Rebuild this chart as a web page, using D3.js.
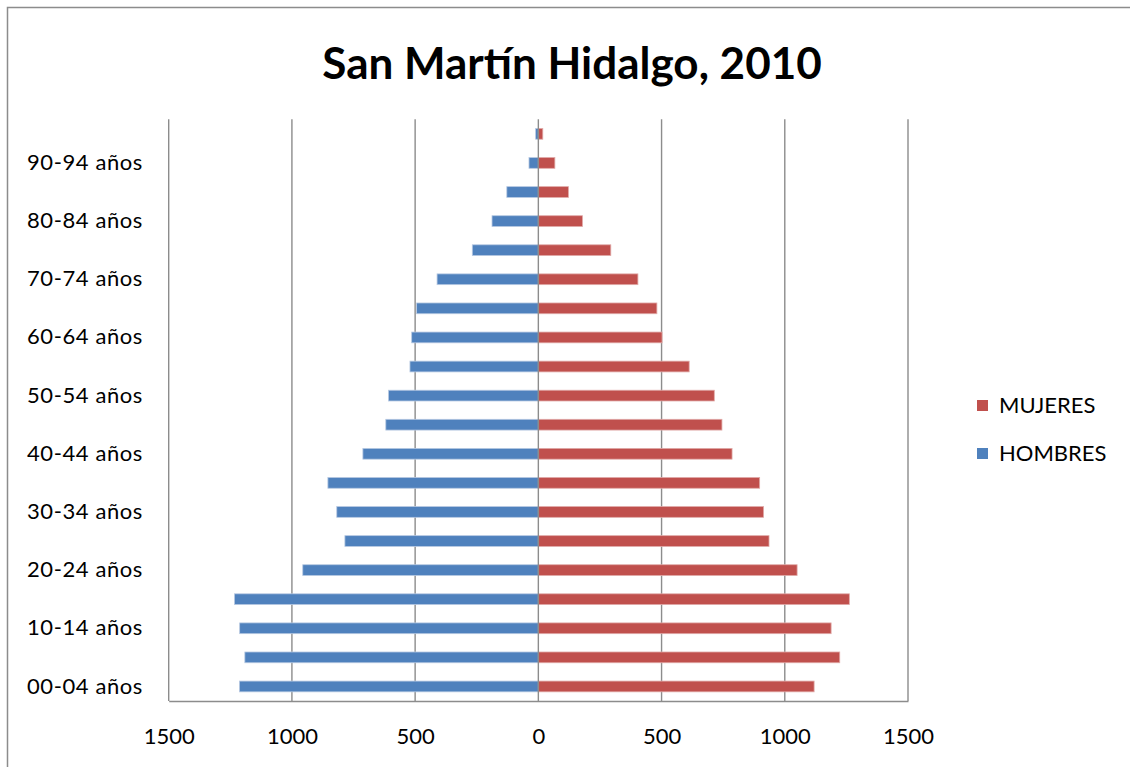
<!DOCTYPE html>
<html>
<head>
<meta charset="utf-8">
<script src="https://cdn.jsdelivr.net/npm/d3@7"></script>
<style>
  html, body { margin: 0; padding: 0; background: #fff; }
  svg { display: block; font-family: Lato, "Open Sans", "DejaVu Sans", sans-serif; }
</style>
</head>
<body>
<svg id="chart" width="1130" height="767"></svg>
<script>
// Population pyramid, San Martín Hidalgo (2010), by five-year age group
const categories = [
  "00-04 años", "05-09 años", "10-14 años", "15-19 años", "20-24 años",
  "25-29 años", "30-34 años", "35-39 años", "40-44 años", "45-49 años",
  "50-54 años", "55-59 años", "60-64 años", "65-69 años", "70-74 años",
  "75-79 años", "80-84 años", "85-89 años", "90-94 años", "95-99 años"
];
const hombres = [1213, 1191, 1212, 1233, 956, 785, 818, 854, 712, 619, 608, 521, 514, 494, 411, 268, 188, 128, 38, 11];
const mujeres = [1119, 1223, 1188, 1262, 1050, 936, 914, 898, 786, 745, 714, 612, 502, 481, 404, 294, 179, 122, 67, 18];
const xTicks = [-1500, -1000, -500, 0, 500, 1000, 1500];
const seriesNames = ["MUJERES", "HOMBRES"];

const colors = { MUJERES: "#C0504D", HOMBRES: "#4F81BD" };
const gridColor = "#8c8c8c";

const svg = d3.select("#chart");

// chart frame
svg.append("rect")
  .attr("x", 7.5).attr("y", 7.5)
  .attr("width", 1140).attr("height", 780)
  .attr("fill", "#fff")
  .attr("stroke", gridColor).attr("stroke-width", 1.5);

const plot = { left: 168.7, right: 908, top: 119.3, bottom: 701 };

const x = d3.scaleLinear().domain([-1500, 1500]).range([plot.left, plot.right]);
const y = d3.scaleBand()
  .domain(categories)
  .range([plot.bottom, plot.top])
  .paddingInner(0.63)
  .paddingOuter(0.315);

// vertical gridlines
svg.append("g")
  .selectAll("line")
  .data(xTicks.filter(d => d !== 0))
  .join("line")
  .attr("x1", d => x(d)).attr("x2", d => x(d))
  .attr("y1", plot.top).attr("y2", plot.bottom)
  .attr("stroke", gridColor).attr("stroke-width", 1.4);

// bars
const rows = categories.map((c, i) => ({ cat: c, h: hombres[i], m: mujeres[i] }));

svg.append("g")
  .selectAll("rect")
  .data(rows)
  .join("rect")
  .attr("x", d => x(-d.h))
  .attr("y", d => y(d.cat))
  .attr("width", d => x(0) - x(-d.h))
  .attr("height", y.bandwidth())
  .attr("fill", colors.HOMBRES)
  .attr("stroke", "#b7c9e2").attr("stroke-width", 0.8);

svg.append("g")
  .selectAll("rect")
  .data(rows)
  .join("rect")
  .attr("x", x(0))
  .attr("y", d => y(d.cat))
  .attr("width", d => x(d.m) - x(0))
  .attr("height", y.bandwidth())
  .attr("fill", colors.MUJERES)
  .attr("stroke", "#e0aaa8").attr("stroke-width", 0.8);

// value axis at zero and bottom axis line
svg.append("line")
  .attr("x1", x(0)).attr("x2", x(0))
  .attr("y1", plot.top).attr("y2", plot.bottom)
  .attr("stroke", gridColor).attr("stroke-width", 1.4);

const xAxis = d3.axisBottom(x)
  .tickValues(xTicks)
  .tickFormat(d => Math.abs(d))
  .tickSize(0)
  .tickPadding(27);

const gx = svg.append("g")
  .attr("transform", `translate(0,${plot.bottom})`)
  .call(xAxis);
gx.select(".domain").attr("stroke", gridColor).attr("stroke-width", 1.6);
gx.selectAll("text")
  .attr("font-family", "Lato, 'Open Sans', sans-serif")
  .attr("font-size", 22)
  .attr("fill", "#000");

// category labels (every second group)
const yAxis = d3.axisLeft(y)
  .tickValues(categories.filter((c, i) => i % 2 === 0))
  .tickSize(0)
  .tickPadding(0);

const gy = svg.append("g")
  .attr("transform", `translate(143,0)`)
  .call(yAxis);
gy.select(".domain").remove();
gy.selectAll("text")
  .attr("font-family", "Lato, 'Open Sans', sans-serif")
  .attr("font-size", 22)
  .attr("letter-spacing", 0.6)
  .attr("fill", "#000");

// title
svg.append("text")
  .attr("x", 572).attr("y", 79)
  .attr("text-anchor", "middle")
  .attr("font-size", 44)
  .attr("font-weight", "bold")
  .attr("fill", "#000")
  .text("San Martín Hidalgo, 2010");

// legend
const legend = svg.append("g");
seriesNames.forEach((name, i) => {
  const ly = 405 + i * 48;
  legend.append("rect")
    .attr("x", 977).attr("y", ly - 5)
    .attr("width", 11).attr("height", 11)
    .attr("fill", colors[name]);
  legend.append("text")
    .attr("x", 999).attr("y", ly)
    .attr("dy", "0.35em")
    .attr("font-size", 22)
    .attr("fill", "#000")
    .text(name);
});
</script>
</body>
</html>
